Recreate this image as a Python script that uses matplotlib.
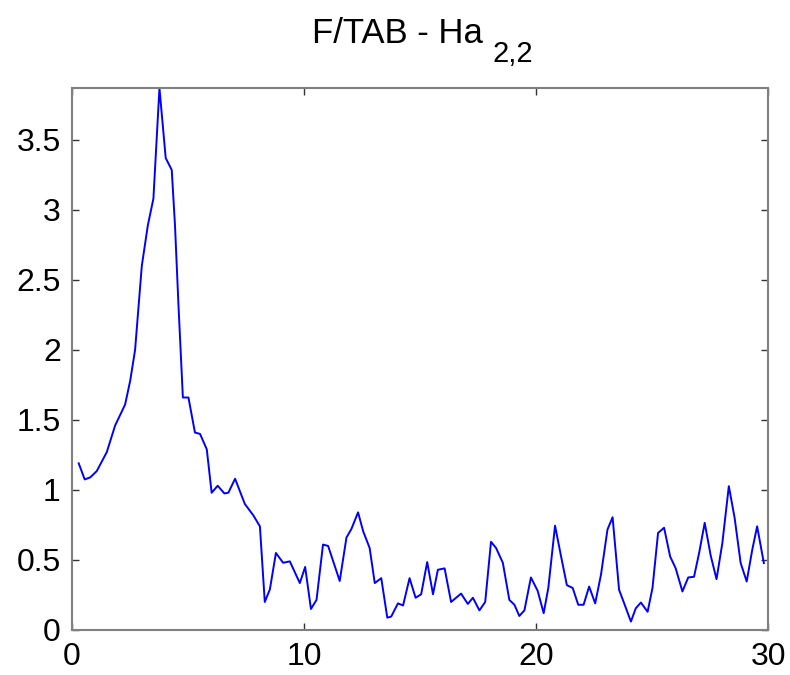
import matplotlib
matplotlib.use("Agg")
import matplotlib.pyplot as plt
from matplotlib.ticker import FormatStrFormatter

plt.rcParams['font.family'] = ['Liberation Sans', 'DejaVu Sans']

# frequency axis and amplitude
freq = [0.29, 0.55, 0.79, 1.07, 1.5, 1.86, 2.29, 2.51, 2.72, 3.01, 3.27, 3.51,
        3.77, 4.04, 4.30, 4.44, 4.59, 4.78, 5.02, 5.30, 5.52, 5.81, 6.02, 6.28,
        6.57, 6.74, 7.03, 7.45, 7.81, 8.1, 8.31, 8.53, 8.79, 9.1, 9.39, 9.82,
        10.05, 10.3, 10.54, 10.82, 11.04, 11.54, 11.83, 12.04, 12.33, 12.55,
        12.83, 13.05, 13.33, 13.59, 13.76, 14.05, 14.27, 14.55, 14.81, 15.05,
        15.31, 15.56, 15.77, 16.06, 16.34, 16.77, 17.06, 17.28, 17.56, 17.81,
        18.06, 18.28, 18.57, 18.85, 19.07, 19.28, 19.5, 19.78, 20.07, 20.33,
        20.53, 20.82, 21.08, 21.33, 21.58, 21.82, 22.05, 22.29, 22.55, 22.8,
        23.08, 23.3, 23.58, 23.8, 24.09, 24.3, 24.52, 24.81, 25.02, 25.26,
        25.52, 25.78, 26.02, 26.31, 26.56, 26.81, 27.03, 27.27, 27.53, 27.78,
        28.03, 28.31, 28.56, 28.82, 29.08, 29.32, 29.53, 29.82]
amp = [1.19, 1.075, 1.09, 1.135, 1.27, 1.46, 1.61, 1.78, 2.0, 2.6, 2.89, 3.08,
       3.87, 3.37, 3.285, 2.89, 2.32, 1.66, 1.66, 1.41, 1.40, 1.29, 0.98, 1.03,
       0.975, 0.98, 1.08, 0.90, 0.82, 0.74, 0.20, 0.29, 0.55, 0.48, 0.49, 0.335,
       0.45, 0.15, 0.215, 0.61, 0.60, 0.35, 0.66, 0.72, 0.84, 0.705,
       0.585, 0.335, 0.37, 0.088, 0.096, 0.19, 0.175, 0.37, 0.23, 0.255,
       0.485, 0.255, 0.43, 0.44, 0.20, 0.26, 0.186, 0.23, 0.14, 0.20,
       0.63, 0.585, 0.48, 0.215, 0.18, 0.10, 0.14, 0.375, 0.28, 0.12,
       0.30, 0.745, 0.525, 0.32, 0.30, 0.18, 0.18, 0.31, 0.19, 0.395,
       0.717, 0.805, 0.287, 0.19, 0.06, 0.155, 0.196, 0.13, 0.30, 0.693,
       0.73, 0.525, 0.44, 0.275, 0.375, 0.38, 0.55, 0.765, 0.53, 0.363,
       0.62, 1.027, 0.80, 0.478, 0.346, 0.573, 0.74, 0.478]

xticks = [0, 10, 20, 30]
yticks = [0, 0.5, 1, 1.5, 2, 2.5, 3, 3.5]

fig = plt.figure(figsize=(7.9, 6.75), dpi=100)
ax = fig.add_axes([0.0911, 0.0667, 0.8811, 0.8029])

ax.plot(freq, amp, color='#0000ff', lw=1.4)

ax.set_xlim(0, 30)
ax.set_ylim(0, max(amp))
ax.set_xticks(xticks)
ax.set_yticks(yticks)
ax.yaxis.set_major_formatter(FormatStrFormatter('%g'))

for s in ax.spines.values():
    s.set_color('#808080')
    s.set_linewidth(1.5)
ax.tick_params(direction='in', length=5, width=1, color='#333333',
               top=True, right=True, labelsize=23)
ax.tick_params(axis='x', pad=9)
ax.tick_params(axis='y', pad=8)

# title with MATLAB-style lowered subscript
fig.text(0.611, 0.936, 'F/TAB - Ha', fontsize=25, ha='right', va='baseline')
fig.text(0.623, 0.908, '2,2', fontsize=21, ha='left', va='baseline')

fig.savefig('out.png', dpi=100)
